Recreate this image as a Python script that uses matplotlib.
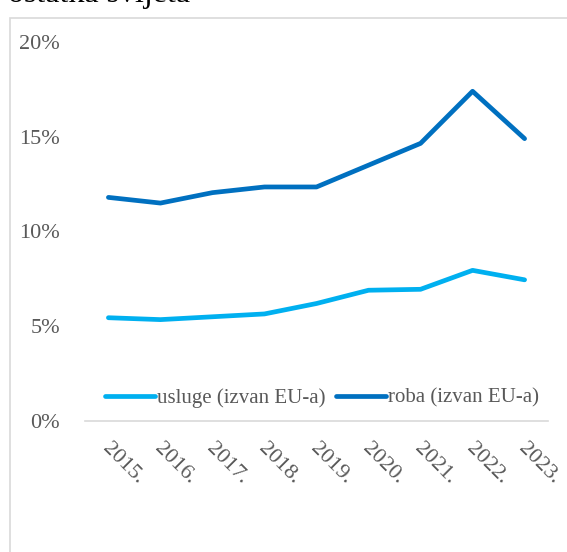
import matplotlib
matplotlib.use("Agg")
import matplotlib.pyplot as plt
from matplotlib.patches import Rectangle
import matplotlib.transforms as mtrans

years = ["2015.", "2016.", "2017.", "2018.", "2019.", "2020.", "2021.", "2022.", "2023."]
usluge = [5.45, 5.35, 5.5, 5.65, 6.2, 6.9, 6.95, 7.95, 7.45]
roba = [11.8, 11.5, 12.05, 12.35, 12.35, 13.5, 14.65, 17.4, 14.9]
yticks = [0, 5, 10, 15, 20]
ytick_labels = ["0%", "5%", "10%", "15%", "20%"]

W, H = 567, 552
fig = plt.figure(figsize=(W / 100, H / 100), dpi=100)
plt.rcParams['font.family'] = ['Liberation Serif', 'DejaVu Serif']

# frame
fig.patches.append(Rectangle((10 / W, -0.1), 1.2, (H - 18) / H + 0.1, transform=fig.transFigure,
                             fill=False, edgecolor='#d9d9d9', linewidth=1.2))
# cut-off title
fig.text(8 / W, 1 - 2 / H, "ostatka svijeta", fontsize=23, color='black',
         ha='left', va='baseline', family='Liberation Serif')

ax = fig.add_axes([85 / W, 1 - 421 / H, (548 - 85) / W, (421 - 42) / H])
x = list(range(len(years)))
ax.plot(x, usluge, color='#00B0F0', lw=3.4, solid_capstyle='round', label='usluge (izvan EU-a)')
ax.plot(x, roba, color='#0070C0', lw=3.4, solid_capstyle='round', label='roba (izvan EU-a)')
ax.set_xlim(-0.45, 8.45)
ax.set_ylim(0, 20)
for s in ['top', 'right', 'left']:
    ax.spines[s].set_visible(False)
ax.spines['bottom'].set_color('#d9d9d9')
ax.spines['bottom'].set_linewidth(1.2)
ax.set_yticks(yticks)
ax.set_yticklabels(ytick_labels)
ax.tick_params(axis='y', length=0, pad=18, labelsize=16, labelcolor='#595959')
ax.set_xticks(x)
ax.set_xticklabels(years, rotation=-45, ha='left', va='top', rotation_mode='anchor')
ax.tick_params(axis='x', length=0, pad=13, labelsize=16, labelcolor='#595959')
off = mtrans.ScaledTranslation(3 / 100, 0, fig.dpi_scale_trans)
for lbl in ax.get_xticklabels():
    lbl.set_transform(lbl.get_transform() + off)

leg = ax.legend(loc='center', bbox_to_anchor=(322 / W, 1 - 398 / H), bbox_transform=fig.transFigure,
                ncol=2, frameon=False, fontsize=15, handlelength=2.4, handletextpad=0.1,
                columnspacing=0.5, labelcolor='#595959')
fig.savefig("out.png", dpi=100)
